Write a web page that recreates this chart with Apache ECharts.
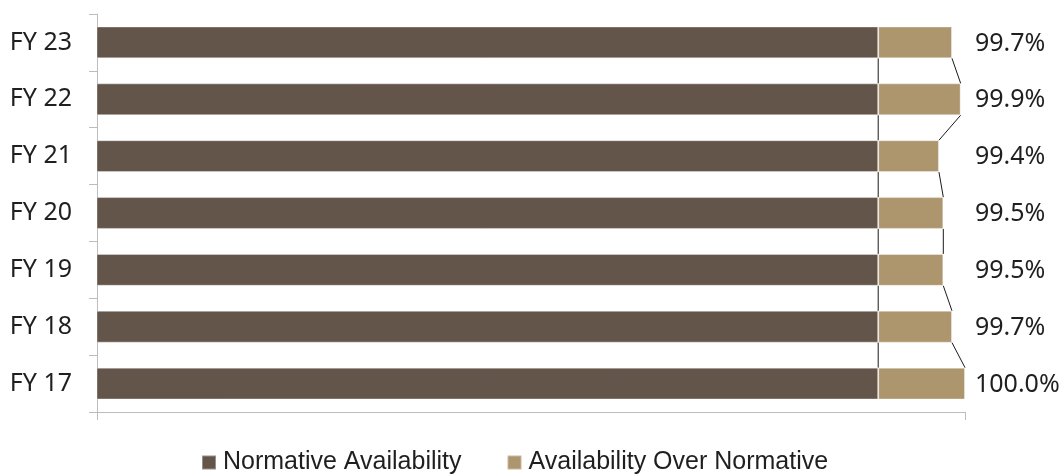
<!DOCTYPE html>
<html>
<head>
<meta charset="utf-8">
<script src="https://cdn.jsdelivr.net/npm/echarts@6/dist/echarts.min.js"></script>
<style>
  html, body { margin: 0; padding: 0; background: #ffffff; }
  #chart { width: 1063px; height: 476px; }
</style>
</head>
<body>
<div id="chart"></div>
<script>
// Transmission system availability by financial year (%)
const categories = ['FY 17', 'FY 18', 'FY 19', 'FY 20', 'FY 21', 'FY 22', 'FY 23'];
const normative = [98, 98, 98, 98, 98, 98, 98];
const totals = [100.0, 99.7, 99.5, 99.5, 99.4, 99.9, 99.7];
const overNormative = totals.map((t, i) => +(t - normative[i]).toFixed(1));

const axisMin = 80;
const axisMax = 100;

const FONT = '"Noto Sans", "Liberation Sans", sans-serif';
const LEGEND_FONT = '"Liberation Sans", "Noto Sans", sans-serif';
const TEXT = '#1f1f1f';
const AXIS = '#bdbdbd';
const BAR_RATIO = 0.56;

// Joins between neighbouring bars: normative end and total end
const connectors = [];
for (let k = 0; k < categories.length - 1; k++) {
  connectors.push([k, normative[k], normative[k + 1]]);
  connectors.push([k, totals[k], totals[k + 1]]);
}
const labelRows = totals.map((t, k) => [k, t]);

const chart = echarts.init(document.getElementById('chart'), null, { renderer: 'canvas' });

chart.setOption({
  animation: false,
  backgroundColor: '#ffffff',
  textStyle: { fontFamily: FONT },
  grid: { left: 97, right: 98, top: 14, bottom: 64 },
  legend: {
    left: 201,
    top: 450,
    padding: 0,
    icon: 'rect',
    itemWidth: 14,
    itemHeight: 14,
    itemGap: 45,
    data: ['Normative Availability', 'Availability Over Normative'],
    textStyle: { fontFamily: LEGEND_FONT, fontSize: 25, color: TEXT, padding: [0, 0, 0, 2] }
  },
  xAxis: {
    type: 'value',
    min: axisMin,
    max: axisMax,
    interval: 20,
    axisLine: { show: true, lineStyle: { color: AXIS, width: 1 } },
    axisTick: { show: true, length: 8, lineStyle: { color: AXIS, width: 1 } },
    axisLabel: { show: false },
    splitLine: { show: false }
  },
  yAxis: {
    type: 'category',
    data: categories,
    axisLine: { show: true, lineStyle: { color: AXIS, width: 1 } },
    axisTick: { show: true, length: 8, lineStyle: { color: AXIS, width: 1 } },
    axisLabel: { fontFamily: FONT, fontSize: 25, color: TEXT, margin: 25 },
    splitLine: { show: false }
  },
  series: [
    {
      name: 'Normative Availability',
      type: 'bar',
      stack: 'avail',
      barWidth: (BAR_RATIO * 100) + '%',
      itemStyle: { color: '#64554b', borderColor: 'rgba(255,255,255,0.35)', borderWidth: 1 },
      data: normative
    },
    {
      name: 'Availability Over Normative',
      type: 'bar',
      stack: 'avail',
      barWidth: (BAR_RATIO * 100) + '%',
      itemStyle: { color: '#ad956e', borderColor: 'rgba(255,255,255,0.35)', borderWidth: 1 },
      data: overNormative
    },
    {
      name: 'joins',
      type: 'custom',
      silent: true,
      z: 5,
      encode: { x: [1, 2], y: 0 },
      data: connectors,
      renderItem: function (params, api) {
        const k = api.value(0);
        const half = api.size([0, 1])[1] * BAR_RATIO / 2;
        const lower = api.coord([api.value(1), k]);
        const upper = api.coord([api.value(2), k + 1]);
        return {
          type: 'line',
          shape: { x1: lower[0], y1: lower[1] - half, x2: upper[0], y2: upper[1] + half },
          style: { stroke: '#1a1a1a', lineWidth: 1 }
        };
      }
    },
    {
      name: 'totals',
      type: 'custom',
      silent: true,
      z: 6,
      encode: { x: 1, y: 0 },
      data: labelRows,
      renderItem: function (params, api) {
        const k = api.value(0);
        const p = api.coord([axisMax, k]);
        return {
          type: 'text',
          style: {
            text: api.value(1).toFixed(1) + '%',
            x: p[0] + 10,
            y: p[1] + 1,
            align: 'left',
            verticalAlign: 'middle',
            fill: TEXT,
            font: '25px ' + FONT
          }
        };
      }
    }
  ]
});
</script>
</body>
</html>
